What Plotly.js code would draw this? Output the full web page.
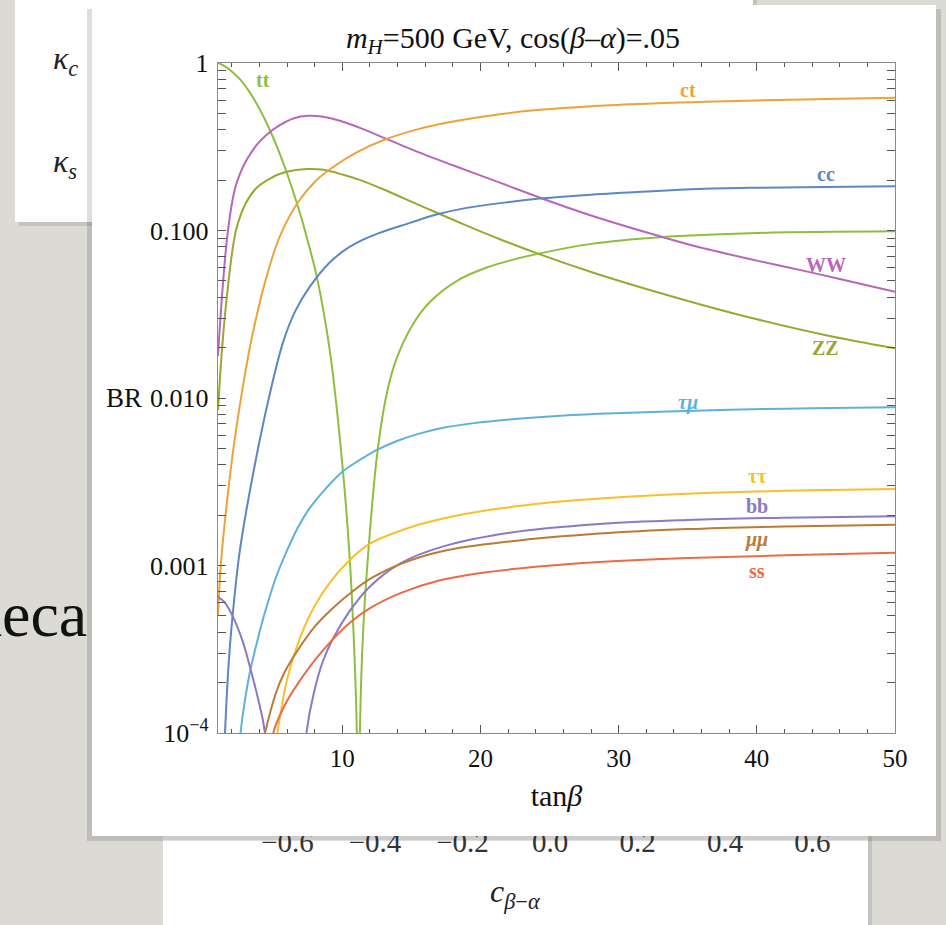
<!DOCTYPE html>
<html><head><meta charset="utf-8">
<script src="https://cdn.plot.ly/plotly-3.0.1.min.js"></script>
<style>html,body{margin:0;padding:0;background:#dcdad5;}#chart{width:946px;height:925px;}</style>
</head><body><div id="chart"></div>
<script>
// ---- data (tanβ, BR) ----
const tb_tt = [1,1.5,2,2.6,3.3,4,4.8,5.5,6,6.8,7.15,8.16,9.1,10.04,10.54,10.85,11.05,11.16,11.27,11.5,11.85,12.5,13.2,13.9,15.1,16.3,18.3,20.5,22.1,24.3,28,33,40,50];
const br_tt = [1,0.955,0.891,0.798,0.668,0.533,0.39,0.283,0.219,0.138,0.11,0.0525,0.019,0.0037,0.00108,0.00033,0.0001,0.000001,0.0001,0.000398,0.00112,0.00447,0.0105,0.017,0.0275,0.0372,0.0501,0.0603,0.0661,0.073,0.0832,0.0912,0.0966,0.0989];
const tb_ww = [1,1.3,1.72,2.2,2.6,3.1,3.8,4.5,5.5,6.5,7.5,8.5,10,11.5,13.07,15,18,21.4,24.3,28,33,35.85,40,43.1,46,50];
const br_ww = [0.0178,0.0417,0.1,0.174,0.219,0.266,0.324,0.372,0.427,0.468,0.484,0.479,0.447,0.403,0.356,0.305,0.245,0.193,0.157,0.123,0.0923,0.0794,0.0661,0.0582,0.0513,0.043];
const tb_zz = [1,1.3,1.7,2.3,3,3.8,4.8,5.5,6.5,7.5,8.5,10,11.3,12.7,14.5,16.8,19,21.4,24.3,28,32,35.85,40,45,50];
const br_zz = [0.0085,0.02,0.0447,0.1,0.145,0.18,0.205,0.218,0.229,0.233,0.231,0.216,0.2,0.18,0.155,0.128,0.107,0.0887,0.072,0.0565,0.0447,0.0363,0.0295,0.0237,0.0198];
const tb_ct = [1,1.2,1.65,2.2,2.8,3.5,4.5,5.5,6.8,8,9.1,11,13,15.5,18,21,24.3,28,32,35.85,40,45,50];
const br_ct = [0.0005,0.001,0.0024,0.0056,0.0117,0.024,0.0525,0.0933,0.148,0.195,0.232,0.292,0.347,0.403,0.447,0.49,0.525,0.552,0.571,0.586,0.598,0.61,0.62];
const tb_cc = [1.45,1.8,2.2,2.6,3.5,4.6,5.7,6.6,7.65,9.1,10.3,11.5,12.6,14.9,16.8,19,22.1,24.3,28,32,35.85,40,45,50];
const br_cc = [0.000079,0.000282,0.00066,0.00126,0.00339,0.00933,0.0214,0.0331,0.0462,0.0646,0.0776,0.0881,0.0962,0.111,0.1245,0.1365,0.148,0.155,0.1637,0.171,0.177,0.18,0.182,0.184];
const tb_tm = [2.5,2.8,3.3,4,4.5,5.2,6,6.8,7.65,8.8,10,11.2,12.5,14,15.5,17.3,19.5,22.1,25,28.6,33,38,44,50];
const br_tm = [0.000079,0.000129,0.000229,0.000398,0.000562,0.000851,0.00123,0.0017,0.00221,0.00288,0.00363,0.00424,0.0049,0.00556,0.00611,0.00664,0.00708,0.00745,0.00776,0.00804,0.00828,0.00851,0.00869,0.00881];
const tb_ta = [5.15,5.3,6,6.9,8,9.3,10.54,12,13.9,15.5,17.3,20.7,22.1,25,28.6,33,38,44,50];
const br_ta = [0.000079,0.0001,0.000209,0.000363,0.000575,0.000832,0.00108,0.00135,0.00158,0.00175,0.00191,0.00215,0.00223,0.00238,0.00251,0.00264,0.00274,0.00281,0.00286];
const tb_bb = [1,1.5,2.1,2.8,3.3,3.9,4.4,5.9,7.4,8,8.6,9.3,10.5,12,14.2,17.3,22.1,28.6,35,42,50];
const br_bb = [0.00065,0.0006,0.00049,0.00035,0.00025,0.00016,0.0001,0.000001,0.0001,0.000182,0.000269,0.000363,0.00053,0.00075,0.00103,0.0013,0.00157,0.00177,0.00187,0.00193,0.00197];
const tb_mm = [4.2,4.4,5.2,5.8,6.9,8,9.3,10.5,12,14.2,17.3,22.1,28.6,35,42,50];
const br_mm = [0.000083,0.0001,0.000174,0.000229,0.000324,0.000432,0.000556,0.000676,0.000832,0.00102,0.00122,0.00139,0.00155,0.00165,0.00171,0.00175];
const tb_ss = [4.85,5,5.8,6.9,8.5,10.5,12,14.2,17,20,24,28.6,35,42,50];
const br_ss = [0.000079,0.0001,0.000145,0.000204,0.000305,0.000452,0.000556,0.000684,0.000813,0.000902,0.000982,0.00105,0.00111,0.00115,0.00119];

const seriesNames = ['tt','WW','ZZ','ct','cc','<i>τμ</i>','ττ','bb','<i>μμ</i>','ss'];
const seriesX = [tb_tt,tb_ww,tb_zz,tb_ct,tb_cc,tb_tm,tb_ta,tb_bb,tb_mm,tb_ss];
const seriesY = [br_tt,br_ww,br_zz,br_ct,br_cc,br_tm,br_ta,br_bb,br_mm,br_ss];
const seriesColors = ['#8cbf3f','#b866b8','#9aa832','#eea33a','#5c86c4','#5fb0da','#f7c02c','#8b78c6','#bd7a35','#ec6b47'];
// label anchor points (tanβ, BR)
const labelX = [4.25,45,45,35,45,35,40,40,40,40];
const labelY = [0.79,0.0622,0.0199,0.69,0.217,0.00946,0.00342,0.00227,0.00142,0.000927];

const yTickVals = [1e-4,1e-3,1e-2,0.1,1];
const yTickText = ['10<sup>−4</sup>','0.001','0.010','0.100','1'];
const xTickVals = [10,20,30,40,50];
const bgTickVals = [-0.6,-0.4,-0.2,0,0.2,0.4,0.6];
const bgTickText = ['−0.6','−0.4','−0.2','0.0','0.2','0.4','0.6'];

// ---- geometry ----
const L=218,R=895,T=63,B=733;
const fx = v => (v-L)/(R-L);
const fy = v => (B-v)/(B-T);
function rect(x0,y0,x1,y1,fill,layer,op){
  return {type:'rect',xref:'paper',yref:'paper',x0:fx(x0),x1:fx(x1),y0:fy(y1),y1:fy(y0),
    fillcolor:fill,line:{width:0},layer:layer||'below',opacity:op==null?1:op};
}
const minorVals=[];
for(let e=-4;e<0;e++){for(let m=2;m<=9;m++){minorVals.push(m*Math.pow(10,e));}}

const serif='Liberation Serif, DejaVu Serif, serif';
const traces = seriesNames.map((n,i)=>({
  x:seriesX[i], y:seriesY[i], type:'scatter', mode:'lines', name:n,
  line:{color:seriesColors[i],width:2,shape:'spline',smoothing:1},
  hoverinfo:'skip', showlegend:false
}));
traces.push({x:[],y:[],xaxis:'x2',yaxis:'y',type:'scatter',mode:'lines',showlegend:false,hoverinfo:'skip'});

const annotations = seriesNames.map((n,i)=>({
  x:labelX[i], y:Math.log10(labelY[i]), xref:'x', yref:'y', text:'<b>'+n+'</b>',
  showarrow:false, font:{family:serif,size:20,color:seriesColors[i]}, xanchor:'center', yanchor:'middle'
}));
annotations.push({xref:'paper',yref:'paper',x:fx(144),y:fy(398),xanchor:'right',yanchor:'middle',
  text:'BR',showarrow:false,font:{family:serif,size:27,color:'#111'}});
annotations.push({xref:'paper',yref:'paper',x:fx(65),y:fy(60),xanchor:'center',yanchor:'middle',
  text:'<i>κ<sub>c</sub></i>',showarrow:false,font:{family:serif,size:32,color:'#222'}});
annotations.push({xref:'paper',yref:'paper',x:fx(65),y:fy(163),xanchor:'center',yanchor:'middle',
  text:'<i>κ<sub>s</sub></i>',showarrow:false,font:{family:serif,size:32,color:'#222'}});
annotations.push({xref:'paper',yref:'paper',x:fx(89),y:fy(614),xanchor:'right',yanchor:'middle',
  text:'deca',showarrow:false,font:{family:serif,size:64,color:'#111'}});
annotations.push({xref:'paper',yref:'paper',x:fx(515),y:fy(893),xanchor:'center',yanchor:'middle',
  text:'<i>c</i><sub><i>β</i>−<i>α</i></sub>',showarrow:false,font:{family:serif,size:32,color:'#222'}});

const shapes = [
  rect(19,-10,757,226,'#000','below',0.10),
  rect(15,-10,753,222,'#ffffff'),
  rect(166,833,872,940,'#000','below',0.10),
  rect(163,830,868,940,'#ffffff'),
  rect(87,9,941,841,'#000','below',0.13),
  rect(92,5,936,836,'#ffffff'),
  rect(165,790,866,836,'#ffffff','above'),
  rect(163,836,868,840,'#000','above',0.08)
];

const layout = {
  width:946, height:925, autosize:false,
  margin:{l:L,r:946-R,t:T,b:925-B,pad:0},
  paper_bgcolor:'#dcdad5', plot_bgcolor:'#ffffff',
  title:{text:'<i>m</i><sub><i>H</i></sub>=500 GeV, cos(<i>β</i>–<i>α</i>)=.05',
    font:{family:serif,size:30,color:'#111'}, xref:'paper', x:fx(513), xanchor:'center',
    yref:'container', y:1-37/925, yanchor:'middle'},
  xaxis:{range:[1,50], tickvals:xTickVals, ticks:'inside', ticklen:8, tickcolor:'#555', tickwidth:1,
    mirror:'allticks', showline:true, linecolor:'#8a8a8a', linewidth:1.3, showgrid:false, zeroline:false,
    minor:{tick0:0,dtick:2,ticks:'inside',ticklen:4,tickcolor:'#555',showgrid:false},
    tickfont:{family:serif,size:25,color:'#111'}, ticklabelstandoff:3,
    title:{text:'tan<i>β</i>',font:{family:serif,size:30,color:'#111'},standoff:13}},
  xaxis2:{overlaying:'x', anchor:'y', side:'bottom', range:[-0.7589,0.7886], tickvals:bgTickVals, ticktext:bgTickText,
    ticks:'', showline:false, showgrid:false, zeroline:false, ticklabelstandoff:89,
    tickfont:{family:serif,size:29,color:'#333'}},
  yaxis:{type:'log', range:[-4,0], tickvals:yTickVals, ticktext:yTickText, ticks:'inside', ticklen:8,
    tickcolor:'#555', mirror:'allticks', showline:true, linecolor:'#8a8a8a', linewidth:1.3, showgrid:false, zeroline:false,
    minor:{tickvals:minorVals,ticks:'inside',ticklen:4,tickcolor:'#555',showgrid:false},
    tickfont:{family:serif,size:26,color:'#111'}, ticklabelstandoff:3},
  shapes:shapes, annotations:annotations, showlegend:false
};
Plotly.newPlot('chart', traces, layout, {staticPlot:true, displayModeBar:false});
</script>
</body></html>
